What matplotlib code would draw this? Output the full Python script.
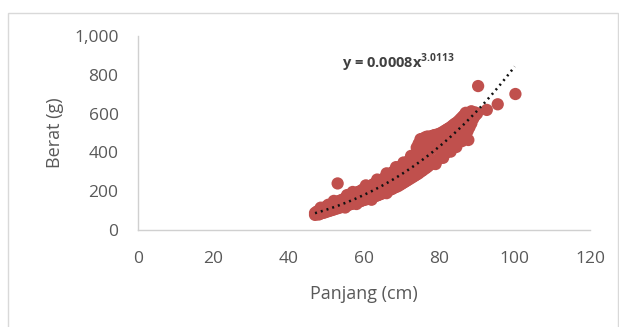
import numpy as np
import matplotlib
matplotlib.use("Agg")
import matplotlib.pyplot as plt
from matplotlib.patches import Rectangle

# fish length (cm) / weight (g)
panjang = [
    47.0, 47.0, 47.5, 47.5, 48.0, 48.0, 48.0, 48.5, 48.5, 48.5,
    49.0, 49.0, 49.0, 49.5, 49.5, 49.5, 50.0, 50.0, 50.0, 50.5, 50.5, 50.5,
    51.0, 51.0, 51.0, 51.5, 51.5, 51.5, 52.0, 52.0, 52.0, 52.5, 52.5, 52.5,
    53.0, 53.0, 53.0, 53.0, 53.5, 53.5, 53.5, 54.0, 54.0, 54.0, 54.5, 54.5, 54.5,
    55.0, 55.0, 55.0, 55.5, 55.5, 55.5, 56.0, 56.0, 56.0, 56.5, 56.5, 56.5,
    57.0, 57.0, 57.0, 57.5, 57.5, 57.5, 58.0, 58.0, 58.0, 58.5, 58.5, 58.5,
    59.0, 59.0, 59.0, 59.5, 59.5, 59.5, 60.0, 60.0, 60.0, 60.5, 60.5, 60.5,
    61.0, 61.0, 61.0, 61.5, 61.5, 61.5, 62.0, 62.0, 62.0, 62.5, 62.5, 62.5,
    63.0, 63.0, 63.0, 63.5, 63.5, 63.5, 64.0, 64.0, 64.0, 64.5, 64.5, 64.5,
    65.0, 65.0, 65.0, 65.5, 65.5, 65.5, 66.0, 66.0, 66.0, 66.5, 66.5, 66.5,
    67.0, 67.0, 67.0, 67.5, 67.5, 67.5, 68.0, 68.0, 68.0, 68.5, 68.5, 68.5,
    69.0, 69.0, 69.0, 69.5, 69.5, 69.5, 70.0, 70.0, 70.0, 70.5, 70.5, 70.5,
    71.0, 71.0, 71.0, 71.5, 71.5, 71.5, 72.0, 72.0, 72.0, 72.5, 72.5, 72.5,
    73.0, 73.0, 73.0, 73.5, 73.5, 73.5,
    74.0, 74.0, 74.0, 74.0, 74.5, 74.5, 74.5, 74.5, 75.0, 75.0, 75.0, 75.0,
    75.5, 75.5, 75.5, 75.5, 76.0, 76.0, 76.0, 76.0, 76.5, 76.5, 76.5, 76.5,
    77.0, 77.0, 77.0, 77.0, 77.5, 77.5, 77.5, 77.5, 78.0, 78.0, 78.0, 78.0,
    78.5, 78.5, 78.5, 78.5, 79.0, 79.0, 79.0, 79.0, 79.5, 79.5, 79.5, 79.5,
    80.0, 80.0, 80.0, 80.0, 80.5, 80.5, 80.5, 80.5, 81.0, 81.0, 81.0, 81.0,
    81.5, 81.5, 81.5, 81.5, 82.0, 82.0, 82.0, 82.0, 82.5, 82.5, 82.5, 82.5,
    83.0, 83.0, 83.0, 83.0, 83.5, 83.5, 83.5, 83.5, 84.0, 84.0, 84.0, 84.0,
    84.5, 84.5, 84.5, 84.5, 85.0, 85.0, 85.0, 85.0, 85.5, 85.5, 85.5, 85.5,
    86.0, 86.0, 86.0, 86.0, 86.5, 86.5, 86.5, 86.5, 87.0, 87.0, 87.0, 87.0,
    87.5, 87.5, 87.5, 87.7, 88.0, 88.0, 88.0, 88.5, 88.5, 88.5,
    89.0, 89.0, 89.5, 89.5, 90.0, 90.3, 92.6, 95.5, 100.2,
    # scattered fish along the edges of the band
    48.5, 50.5, 52.0, 55.5, 57.0, 60.5, 63.5, 66.0, 68.5, 70.5, 72.5,
    55.0, 58.0, 62.0, 66.0, 79.0, 81.0, 83.0, 84.5, 86.0, 88.5, 87.0,
]
berat = [
    78, 88, 82, 95, 80, 92, 100, 85, 98, 106,
    88, 100, 110, 90, 105, 116, 94, 108, 120, 97, 112, 124,
    100, 116, 128, 103, 122, 132, 106, 124, 136, 110, 128, 140,
    112, 132, 146, 240, 116, 136, 150, 118, 140, 154, 122, 146, 158,
    124, 150, 164, 128, 152, 168, 130, 156, 172, 134, 160, 178,
    136, 166, 182, 140, 170, 186, 142, 174, 192, 146, 178, 196,
    148, 182, 200, 152, 186, 206, 155, 190, 212, 158, 196, 216,
    160, 200, 220, 164, 204, 226, 168, 208, 230, 172, 214, 236,
    175, 218, 240, 178, 224, 246, 182, 228, 252, 186, 234, 258,
    190, 238, 262, 194, 244, 268, 198, 250, 276, 204, 256, 282,
    208, 262, 290, 212, 268, 296, 218, 274, 304, 222, 280, 310,
    226, 286, 318, 232, 292, 324, 238, 298, 330, 244, 306, 336,
    250, 312, 344, 256, 318, 350, 262, 326, 358, 268, 332, 366,
    274, 340, 374, 280, 348, 384,
    286, 356, 396, 425, 292, 364, 410, 445, 300, 372, 420, 468,
    306, 380, 428, 470, 314, 388, 436, 474, 320, 396, 440, 480,
    328, 404, 446, 482, 336, 410, 452, 476, 342, 418, 458, 484,
    350, 426, 462, 488, 356, 432, 468, 490, 362, 440, 474, 492,
    370, 448, 480, 496, 378, 456, 486, 500, 386, 462, 494, 506,
    394, 470, 500, 512, 402, 478, 506, 518, 412, 486, 512, 524,
    420, 492, 520, 530, 430, 500, 526, 538, 440, 506, 534, 546,
    450, 512, 540, 552, 460, 520, 548, 560, 470, 528, 556, 570,
    480, 536, 566, 580, 490, 546, 576, 590, 500, 556, 586, 596,
    510, 566, 594, 464, 530, 580, 600, 550, 592, 604,
    574, 600, 590, 606, 600, 742, 619, 648, 701,
    115, 130, 150, 180, 196, 230, 260, 292, 324, 348, 382,
    116, 134, 156, 190, 340, 372, 404, 428, 458, 612, 604,
]

# power trendline shown on the chart: y = a * x^b
trend_a = 0.0008
trend_b = 3.0113
trend_x_range = (47, 100)

x_ticks = [0, 20, 40, 60, 80, 100, 120]
y_ticks = [0, 200, 400, 600, 800, 1000]
y_tick_labels = ["0", "200", "400", "600", "800", "1,000"]

plt.rcParams['font.family'] = ['Open Sans', 'DejaVu Sans']
plt.rcParams['mathtext.fontset'] = 'custom'
plt.rcParams['mathtext.rm'] = 'Open Sans'
plt.rcParams['mathtext.bf'] = 'Open Sans:bold'

W, H = 619, 327
fig = plt.figure(figsize=(W / 100, H / 100), dpi=100)
fig.patch.set_facecolor("white")
ax = fig.add_axes([138 / W, 97 / H, 452 / W, 194 / H])

ax.scatter(panjang, berat, s=78, color="#C0504D", edgecolors="none", zorder=2)

tx = np.linspace(trend_x_range[0], trend_x_range[1], 200)
ax.plot(tx, trend_a * tx ** trend_b, color="#111111", lw=1.8,
        linestyle=(0, (0.8, 1.6)), zorder=3)

ax.text(54.2, 862, r"y = 0.0008x$^{\mathbf{3.0113}}$", fontsize=10.5,
        fontweight="bold", color="#404040", va="center", ha="left")

ax.set_xlim(0, 120)
ax.set_ylim(0, 1000)
ax.set_xticks(x_ticks)
ax.set_yticks(y_ticks)
ax.set_yticklabels(y_tick_labels)
for s in ["top", "right"]:
    ax.spines[s].set_visible(False)
for s in ["left", "bottom"]:
    ax.spines[s].set_color("#D0D0D0")
    ax.spines[s].set_linewidth(1.0)
ax.tick_params(axis="both", length=0, labelsize=12.5, labelcolor="#595959")
ax.tick_params(axis="x", pad=15)
ax.tick_params(axis="y", pad=14)
ax.set_xlabel("Panjang (cm)", fontsize=13, color="#595959", labelpad=13)
ax.set_ylabel("Berat (g)", fontsize=13, color="#595959", labelpad=7)

fig.add_artist(Rectangle((8 / W, -0.05), 610 / W, 1.05 - 13 / H,
                         transform=fig.transFigure, fill=False,
                         edgecolor="#D9D9D9", lw=1.0))

fig.savefig("out.png", dpi=100)
